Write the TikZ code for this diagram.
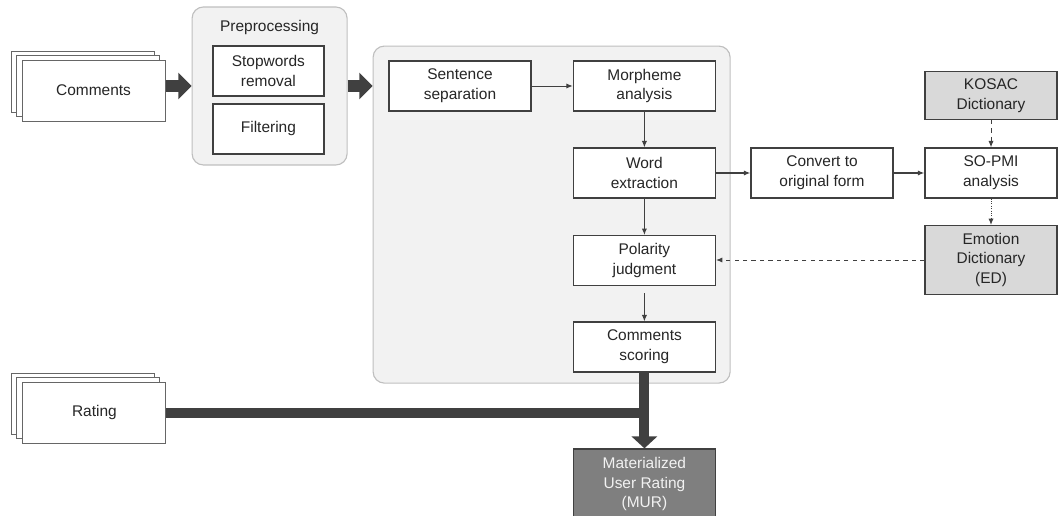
\documentclass[tikz,border=0pt]{standalone}
\usepackage{fontspec}
\setmainfont{Liberation Sans}
\usetikzlibrary{arrows.meta,positioning}
\definecolor{mline}{HTML}{404040}
\definecolor{mtext}{HTML}{262626}
\definecolor{mpanel}{HTML}{F2F2F2}
\definecolor{mpanelline}{HTML}{BFBFBF}
\definecolor{mdict}{HTML}{D9D9D9}
\definecolor{mresult}{HTML}{7F7F7F}
\tikzset{
  proc/.style={rectangle,draw=mline,fill=white,line width=.9pt,minimum width=3.55cm,minimum height=1.25cm,align=center,font=\fontsize{11}{14.2}\selectfont,text=mtext},
  dict/.style={proc,fill=mdict,minimum width=3.3cm},
  stack/.style={proc,draw=mline!80,line width=.6pt,minimum width=3.575cm,minimum height=1.53cm},
  panel/.style={rectangle,rounded corners=8pt,draw=mpanelline,fill=mpanel,line width=.8pt},
  flow/.style={-{Latex[length=1.6mm,width=1.3mm]},draw=mline,line width=.7pt},
  flowb/.style={flow,line width=1.3pt},
  ref/.style={flow,dashed},
  bigarrow/.style={-{Triangle[length=.33cm,width=.65cm]},draw=mline,line width=.3cm},
  bigline/.style={draw=mline,line width=.25cm},
}
\begin{document}
\begin{tikzpicture}
  \useasboundingbox (0,0) rectangle (26.475,12.875);
  % inputs
  \node[stack] (com3) at (2.065,10.835) {};
  \node[stack] (com2) at (2.19,10.735) {};
  \node[stack] (com) at (2.34,10.61) {Comments};
  \node[stack] (rat3) at (2.085,2.775) {};
  \node[stack] (rat2) at (2.21,2.675) {};
  \node[stack] (rat) at (2.36,2.55) {Rating};
  % preprocessing
  \node[panel,minimum width=3.875cm,minimum height=3.95cm] (prep) at (6.74,10.725) {};
  \node[font=\fontsize{11}{14.2}\selectfont,text=mtext] (preptitle) at (6.74,12.175) {Preprocessing};
  \node[proc,minimum width=2.775cm] (stop) at (6.71,11.1) {Stopwords\\removal};
  \node[proc,minimum width=2.775cm] (filt) at (6.71,9.65) {Filtering};
  % analysis
  \node[panel,minimum width=8.925cm,minimum height=8.425cm] (main) at (13.79,7.51) {};
  \node[proc] (sent) at (11.5,10.725) {Sentence\\separation};
  \node[proc] (morph) at (16.11,10.725) {Morpheme\\analysis};
  \node[proc] (word) at (16.11,8.55) {Word\\extraction};
  \node[proc] (pol) at (16.11,6.36) {Polarity\\judgment};
  \node[proc] (score) at (16.11,4.2) {Comments\\scoring};
  \node[proc] (conv) at (20.55,8.55) {Convert to\\original form};
  \node[proc,minimum width=3.3cm] (sopmi) at (24.775,8.55) {SO-PMI\\analysis};
  \node[dict,minimum height=1.2cm] (kosac) at (24.775,10.49) {KOSAC\\Dictionary};
  \node[dict,minimum height=1.72cm] (emo) at (24.775,6.375) {Emotion\\Dictionary\\(ED)};
  \node[proc,fill=mresult,text=mpanel,minimum height=1.75cm] (mur) at (16.11,.775) {Materialized\\User Rating\\(MUR)};
  \draw[bigarrow] (com.east |- prep.west) -- (prep.west);
  \draw[bigarrow] (prep.east) -- (main.west |- prep.east);
  \draw[flow] (sent) -- (morph);
  \draw[flow] (morph) -- (word);
  \draw[flow] (word) -- (pol);
  \draw[flow,shorten <=.18cm] (pol) -- (score);
  \draw[flowb] (word) -- (conv);
  \draw[flowb] (conv) -- (sopmi);
  \draw[ref] (kosac) -- (sopmi);
  \draw[flow,densely dotted] (sopmi) -- (emo);
  \draw[ref] (emo.west) -- (emo.west -| pol.east);
  \coordinate (join) at (score.south |- rat.east);
  \draw[bigline] (rat.east) -- (join);
  \draw[bigarrow,line width=.25cm,-{Triangle[length=.3cm,width=.63cm]}] (score.south) -- (mur.north);
\end{tikzpicture}
\end{document}
